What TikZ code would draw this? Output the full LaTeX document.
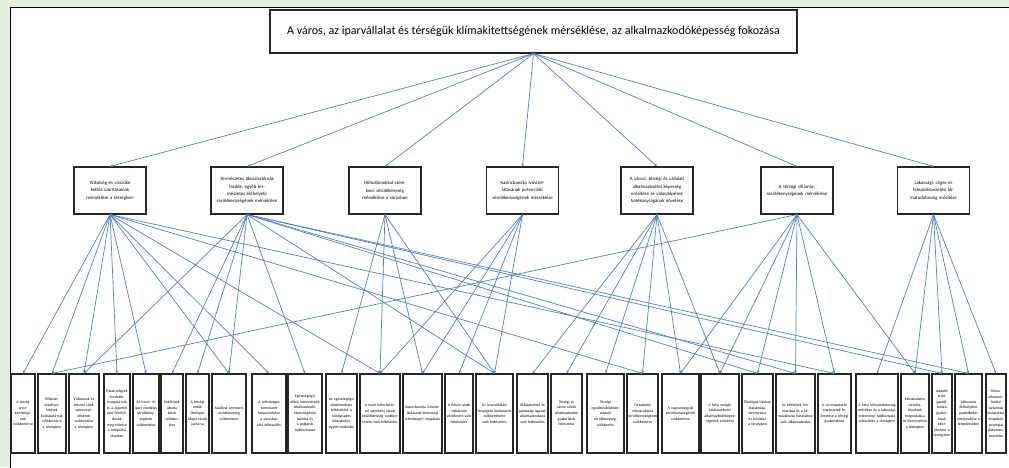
\documentclass[tikz,border=0pt]{standalone}
\usepackage{fontspec}
\setmainfont{Carlito}
\usetikzlibrary{arrows.meta}
\definecolor{pagegreen}{RGB}{226,239,218}
\definecolor{linkblue}{RGB}{79,129,199}
\tikzset{
  boxbase/.style={draw=black!85, line width=1.1pt, fill=white, inner sep=0.5pt, align=center},
  goalbox/.style={boxbase, minimum width=527pt, minimum height=43pt, font=\fontsize{12}{14}\selectfont},
  aimbox/.style={boxbase, minimum width=72pt, minimum height=47pt, text width=66pt, font=\fontsize{4.8}{7.4}\selectfont},
  leafbox/.style={boxbase, minimum height=79pt, font=\fontsize{3.8}{5.6}\selectfont},
  link/.style={draw=linkblue, line width=0.7pt, -{Stealth[length=3pt,width=2.6pt]}}
}
\newcommand{\leaf}[4]{\node[leafbox, minimum width=#3pt, text width=#3pt-2.5pt] (#1) at (#2,413.5) {\hyphenpenalty=0 #4};}
\begin{document}
\begin{tikzpicture}[x=1pt,y=-1pt]
\useasboundingbox (0,0) rectangle (1009,467);
% page background and frame
\fill[pagegreen] (0,0) rectangle (1009,467);
\draw[black, line width=1pt, fill=white] (10,7) rectangle (1030,490);

% overall goal
\node[goalbox] (goal) at (533.5,31.5) {A város, az iparvállalat és térségük klímakitettségének mérséklése, az alkalmazkodóképesség fokozása};

% specific aims
\node[aimbox] (m1) at (110,190.5) {Vízbőség és vízszűke kettős szorításainak mérséklése a térségben};
\node[aimbox] (m2) at (247,190.5) {Természetes ökoszisztémák (erdők, egyéb természetes élőhelyek) sérülékenységének mérséklése};
\node[aimbox] (m3) at (385,190.5) {Hőhullámokkal szembeni sérülékenység mérséklése a városban};
\node[aimbox] (m4) at (522.5,190.5) {Kazincbarcika ivóvízellátásának potenciális sérülékenységének mérséklése};
\node[aimbox] (m5) at (657,190.5) {A városi, térségi és vállalati alkalmazkodási képesség erősítése és válaszlépések hatékonyságának növelése};
\node[aimbox] (m6) at (797,190.5) {A térségi villámár-sérülékenységének mérséklése};
\node[aimbox] (m7) at (933.5,190.5) {Lakossági, céges és településvezetési klímatudatosság erősítése};

% measures
\leaf{b1}{23}{24}{A térség árvíz-kitettségé-nek csökkenté-se}
\leaf{b2}{52}{28}{Villámár-veszélyez-tetések kockázatá-nak csökkentés-e a térségben}
\leaf{b3}{84}{30}{Vízbázisok és felszíni vizek szennyező-désének csökkentése a térségben}
\leaf{b4}{117}{26}{Patak-völgyek hordalék-mozgásá-nak és a záportól való feltöltő-désük meg-előzése a települési részeken}
\leaf{b5}{146}{26}{Az ivóvíz- és ipari vízellátás sérülékeny-ségének csökkentése}
\leaf{b6}{172}{22}{Erdőtüzek okozta károk csökken-tése}
\leaf{b7}{197.5}{23}{A térségi erdők ökológiai állapo-tának javítá-sa}
\leaf{b8}{229}{34}{Aszállyal szembeni sérülékenység csökkentése}
\leaf{b9}{269}{34}{A szélsőséges természeti katasztrófákra a városban való felkészülés}
\leaf{b10}{305}{34}{Egészségügyi ellátó intézmények alkalmazkodó-képességének javítása és a polgárok tájékoztatása}
\leaf{b11}{341.5}{31}{Az egészségügyi ellátórendszer felkészítése a hőségriadós időszakokra, együtt-működés}
\leaf{b12}{380}{40}{A nyári hőterheléssel szembeni városi sérülékenység csökkentésére való felkészülés}
\leaf{b13}{422.5}{39}{Kazincbarcika ivóvízellátásának biztonsági lehetőségei, vizsgálata}
\leaf{b14}{459}{28}{A felszín alatti vízbázisok védelmére való felkészülés}
\leaf{b15}{494.5}{37}{Az ivóvízellátást fenyegető kockázatok csökkentésére való felkészülés}
\leaf{b16}{532.5}{31}{Vállalatszintű és gazdasági ágazati alkalmazkodásra való felkészülés}
\leaf{b17}{566.5}{31}{Térségi és városi szintű alkalmazkodási gyakorlatok fejlesztése}
\leaf{b18}{605.5}{37}{Térségi együttműködésen alapuló sérülékenység-csökkentés}
\leaf{b19}{642.5}{31}{Társadalmi infrastruktúra sérülékenységének csökkentése}
\leaf{b20}{680.5}{37}{A vagyontárgyak sérülékenységének csökkentése}
\leaf{b21}{720}{38}{A helyi szolgáltatásszerkezet alkalmazkodóképes-ségének erősítése}
\leaf{b22}{757.5}{31}{Ökológiai hálózat kialakítása, fenntartása és bővítése a térségben}
\leaf{b23}{795.5}{39}{Az élőhelyek fenntartása és a klímaváltozás hatásaihoz való alkalmazkodás}
\leaf{b24}{834.5}{33}{A víz-visszatartó szerkezetek fejlesztése a térségi gyakorlatban}
\leaf{b25}{877}{42}{A helyi klímatudatosság erősítése és a lakossági, intézményi tájékoztatás szélesítése a térségben}
\leaf{b26}{915}{28}{Klímatudatos nevelés, képzések megindulása és kiterjesztése a térségben}
\leaf{b27}{942}{20}{Adaptív erdő-gazdál-kodási gyakor-latok elter-jesztése a térség-ben}
\leaf{b28}{968.5}{27}{Változatos élőhelyeket gazdálkodás elterjesztése a településeken}
\leaf{b29}{996}{20}{Klíma-alkalmaz-kodási tartalmak integrálása települési stratégiai dokumen-tumokba}

% goal to aims
\foreach \m in {m1,m2,m3,m4,m5,m6,m7} \draw[link] (goal.south) -- (\m.north);

% aims to measures
\foreach \b in {b1,b2,b3,b4,b5,b8,b9,b12,b19,b24} \draw[link] (m1.south) -- (\b.north);
\foreach \b in {b3,b6,b7,b8,b10,b15,b22,b23,b27,b28} \draw[link] (m2.south) -- (\b.north);
\foreach \b in {b11,b12,b13,b15} \draw[link] (m3.south) -- (\b.north);
\foreach \b in {b12,b13,b14,b15} \draw[link] (m4.south) -- (\b.north);
\foreach \b in {b16,b17,b18,b19,b20,b21} \draw[link] (m5.south) -- (\b.north);
\foreach \b in {b2,b20,b21,b22,b23,b24,b26} \draw[link] (m6.south) -- (\b.north);
\foreach \b in {b25,b26,b27,b28,b29} \draw[link] (m7.south) -- (\b.north);
\end{tikzpicture}
\end{document}
